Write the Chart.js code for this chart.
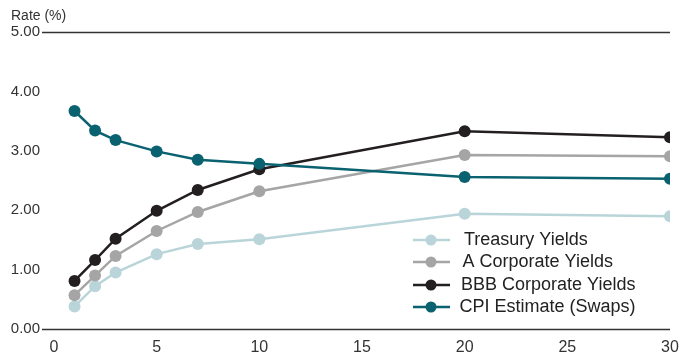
<!DOCTYPE html>
<html><head><meta charset="utf-8">
<script src="https://cdn.jsdelivr.net/npm/chart.js@4.4.0/dist/chart.umd.min.js"></script>
<style>html,body{margin:0;padding:0;background:#fff;}#wrap{width:681px;height:360px;position:relative;}</style>
</head><body><div id="wrap"><canvas id="c" width="681" height="360"></canvas></div>
<script>
const maturities = [1, 2, 3, 5, 7, 10, 20, 30];
const treasuryYields = [0.38, 0.72, 0.95, 1.26, 1.43, 1.51, 1.94, 1.90];
const aCorporateYields = [0.57, 0.90, 1.23, 1.65, 1.97, 2.32, 2.93, 2.91];
const bbbCorporateYields = [0.81, 1.16, 1.52, 1.99, 2.34, 2.69, 3.33, 3.23];
const cpiEstimate = [3.67, 3.34, 3.18, 2.99, 2.85, 2.78, 2.56, 2.53];
const seriesNames = ['Treasury Yields', 'A Corporate Yields', 'BBB Corporate Yields', 'CPI Estimate (Swaps)'];
const yTickValues = [0, 1, 2, 3, 4, 5];
const xTickValues = [0, 5, 10, 15, 20, 25, 30];
const yAxisTitle = 'Rate (%)';

const colors = ['#b9d5d9', '#a5a5a5', '#231f20', '#0a6170'];
const seriesData = [treasuryYields, aCorporateYields, bbbCorporateYields, cpiEstimate];
const FONT = '"Liberation Sans", Arial, sans-serif';

const datasets = seriesData.map((vals, i) => ({
  label: seriesNames[i],
  data: maturities.map((m, j) => ({x: m, y: vals[j]})),
  borderColor: colors[i],
  backgroundColor: colors[i],
  pointBackgroundColor: colors[i],
  pointBorderColor: colors[i],
  pointRadius: 6,
  pointBorderWidth: 0,
  borderWidth: 2.5,
  tension: 0,
  order: 3 - i
}));

const extras = {
  id: 'extras',
  beforeDatasetsDraw(chart) {
    const ctx = chart.ctx, ys = chart.scales.y, ca = chart.chartArea;
    ctx.save();
    ctx.strokeStyle = '#333';
    ctx.lineWidth = 1.5;
    [0, 5].forEach(v => {
      const y = Math.round(ys.getPixelForValue(v)) + 0.5;
      ctx.beginPath(); ctx.moveTo(42, y); ctx.lineTo(ca.right, y); ctx.stroke();
    });
    ctx.fillStyle = '#333';
    ctx.font = '14px ' + FONT;
    ctx.textBaseline = 'middle';
    ctx.textAlign = 'left';
    ctx.fillText(yAxisTitle, 11, 16);
    ctx.restore();
  },
  afterDraw(chart) {
    const ctx = chart.ctx;
    const rowsY = [240, 262, 285, 307];
    ctx.save();
    chart.data.datasets.forEach((ds, i) => {
      const y = rowsY[i];
      ctx.strokeStyle = ds.borderColor; ctx.lineWidth = 2.5;
      ctx.beginPath(); ctx.moveTo(413, y); ctx.lineTo(450, y); ctx.stroke();
      ctx.fillStyle = ds.borderColor;
      ctx.beginPath(); ctx.arc(431, y, 5.5, 0, Math.PI * 2); ctx.fill();
      ctx.fillStyle = '#222';
      ctx.font = '18px ' + FONT;
      ctx.textBaseline = 'middle'; ctx.textAlign = 'left';
      ctx.fillText(ds.label, 464 - i * 1.5, y);
    });
    ctx.restore();
  }
};

new Chart(document.getElementById('c'), {
  type: 'line',
  data: { datasets },
  options: {
    responsive: false,
    animation: false,
    layout: { padding: { top: 32, right: 0, left: 0, bottom: 0 } },
    plugins: { legend: { display: false }, tooltip: { enabled: false } },
    scales: {
      x: {
        type: 'linear', min: 0, max: 30,
        afterBuildTicks: s => { s.ticks = xTickValues.map(v => ({value: v})); },
        afterFit: s => { s.height = 31; s.paddingRight = 11; s.paddingLeft = 0; },
        grid: { display: false, drawTicks: false },
        border: { display: false },
        ticks: { color: '#333', font: { size: 16, family: FONT }, padding: 9, maxRotation: 0 }
      },
      y: {
        min: 0, max: 5,
        afterBuildTicks: s => { s.ticks = yTickValues.map(v => ({value: v})); },
        afterFit: s => { s.width = 54; },
        grid: { display: false, drawTicks: false },
        border: { display: false },
        ticks: { color: '#333', font: { size: 15, family: FONT }, padding: 14, callback: v => Number(v).toFixed(2) }
      }
    }
  },
  plugins: [extras]
});
</script></body></html>
